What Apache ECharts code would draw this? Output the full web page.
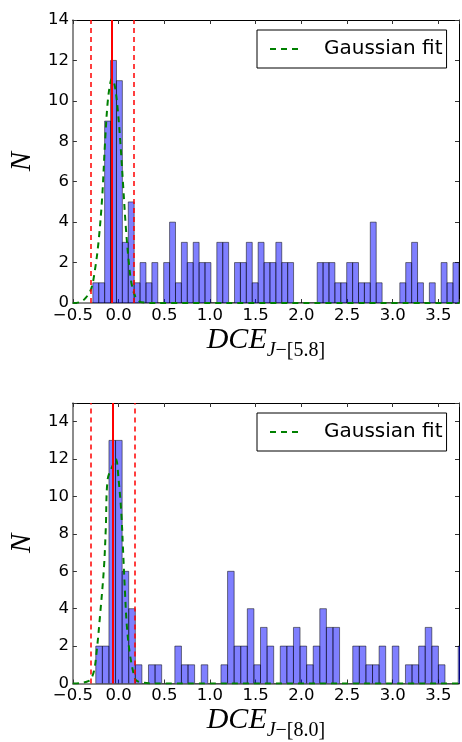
<!DOCTYPE html>
<html>
<head>
<meta charset="UTF-8">
<title>DCE histograms</title>
<script src="https://cdn.jsdelivr.net/npm/echarts@6/dist/echarts.min.js"></script>
<style>html,body{margin:0;padding:0;background:#fff}</style>
</head>
<body>
<div id="main" style="width:462px;height:742px;"></div>
<script>
// top panel, DCE J-[5.8]: histogram bins (left edge of first bin, bin width, counts)
var topBinStart = -0.2817
var topBinWidth = 0.0646
var topCounts = [1, 1, 9, 12, 11, 3, 5, 1, 2, 1, 2, 0, 2, 4, 1, 3, 2, 3,
                 2, 2, 0, 3, 3, 0, 2, 2, 3, 1, 3, 2, 2, 3, 2, 2, 0, 0, 0, 0,
                 2, 2, 2, 1, 1, 2, 2, 1, 1, 4, 1, 0, 0, 0, 1, 2, 3, 1, 0, 1, 0, 2, 1, 2]
// red lines: mean and the two dashed limits
var topMean = -0.068
var topLims = [-0.303, 0.167]
// gaussian fit, points
var topFitX = [-0.50, -0.42, -0.36, -0.30, -0.26, -0.22, -0.18, -0.15, -0.12, -0.09, -0.07, -0.04, -0.01, 0.02, 0.05, 0.08, 0.11, 0.14, 0.18, 0.22, 0.28, 0.40, 3.73]
var topFitY = [0.0, 0.05, 0.25, 0.7, 1.6, 3.0, 5.2, 7.8, 9.9, 10.9, 11.1, 10.7, 9.6, 7.9, 5.8, 3.7, 2.1, 1.0, 0.35, 0.1, 0.02, 0, 0]

// bottom panel, DCE J-[8.0]
var botBinStart = -0.2495
var botBinWidth = 0.0721
var botCounts = [2, 2, 13, 13, 6, 4, 1, 0, 1, 1, 0, 0, 2, 1, 1, 0, 1, 0, 0, 1,
                 6, 2, 2, 4, 1, 3, 2, 0, 2, 2, 3, 2, 1, 2, 4, 3, 3,
                 0, 0, 2, 2, 1, 1, 2, 0, 2, 0, 1, 1, 2, 3, 2, 1, 0, 0, 2]
var botMean = -0.059
var botLims = [-0.299, 0.185]
var botFitX = [-0.50, -0.42, -0.36, -0.31, -0.27, -0.24, -0.20, -0.16, -0.14, -0.12, -0.07, -0.03, 0.00, 0.03, 0.05, 0.07, 0.09, 0.12, 0.16, 0.19, 0.26, 0.40, 3.73]
var botFitY = [0, 0.02, 0.08, 0.2, 0.65, 1.7, 3.8, 6.2, 8.3, 10.9, 11.6, 12.0, 10.9, 9.1, 7.0, 4.9, 3.1, 1.7, 0.62, 0.18, 0.05, 0, 0]

var xMin = -0.5, xMax = 3.725

function xLabel (v) {
    if (Math.abs(v * 2 - Math.round(v * 2)) > 1e-6) return ''
    return (v < 0 ? '\u2212' : '') + Math.abs(v).toFixed(1)
}
function yLabel (v) {
    return v % 2 === 0 ? String(v) : ''
}

function histData (start, width, counts) {
    return counts.map(function (c, i) {
        return [start + i * width, start + (i + 1) * width, c]
    })
}
function zip (xs, ys) {
    return xs.map(function (x, i) { return [x, ys[i]] })
}

var serif = 'Liberation Serif'
var sans = 'DejaVu Sans'

function xName (sub) {
    return {
        name: '{a|DCE}{b|J}{c|\u2212[' + sub + ']}',
        nameLocation: 'middle',
        nameGap: 22,
        nameTextStyle: {
            rich: {
                a: {fontFamily: serif, fontStyle: 'italic', fontSize: 30, lineHeight: 30, verticalAlign: 'top', color: '#000'},
                b: {fontFamily: serif, fontStyle: 'italic', fontSize: 20, lineHeight: 51, verticalAlign: 'middle', color: '#000'},
                c: {fontFamily: serif, fontSize: 20, lineHeight: 51, verticalAlign: 'middle', color: '#000'}
            }
        }
    }
}

function mainX (grid, sub) {
    return Object.assign({
        gridIndex: grid, type: 'value', min: xMin, max: xMax, interval: 0.5,
        position: 'bottom',
        axisLine: {onZero: false, lineStyle: {color: '#666', width: 1.5}},
        axisTick: {inside: true, length: 4, lineStyle: {color: '#333'}},
        axisLabel: {margin: 4, fontSize: 16.5, color: '#000', fontFamily: sans, formatter: xLabel},
        splitLine: {show: false}
    }, xName(sub))
}
function topX (grid) {
    return {
        gridIndex: grid, type: 'value', min: xMin, max: xMax, interval: 0.5,
        position: 'top',
        axisLine: {onZero: false, lineStyle: {color: '#000', width: 1}},
        axisTick: {inside: true, length: 4, lineStyle: {color: '#333'}},
        axisLabel: {show: false},
        splitLine: {show: false}
    }
}
function mainY (grid, max) {
    return {
        gridIndex: grid, type: 'value', min: 0, max: max, interval: 2,
        position: 'left',
        axisLine: {onZero: false, lineStyle: {color: '#666', width: 1.5}},
        axisTick: {inside: true, length: 4, lineStyle: {color: '#333'}},
        axisLabel: {margin: 4, fontSize: 16.5, color: '#000', fontFamily: sans, formatter: yLabel},
        splitLine: {show: false},
        name: 'N',
        nameLocation: 'middle',
        nameRotate: 90,
        nameGap: 28,
        nameTextStyle: {fontFamily: serif, fontStyle: 'italic', fontSize: 29, color: '#000'}
    }
}
function rightY (grid, max) {
    return {
        gridIndex: grid, type: 'value', min: 0, max: max, interval: 2,
        position: 'right',
        axisLine: {onZero: false, lineStyle: {color: '#000', width: 1}},
        axisTick: {inside: true, length: 4, lineStyle: {color: '#333'}},
        axisLabel: {show: false},
        splitLine: {show: false}
    }
}

function histSeries (axis, data) {
    return {
        type: 'custom',
        name: 'hist',
        xAxisIndex: axis, yAxisIndex: axis,
        clip: true,
        data: data,
        encode: {x: [0, 1], y: 2},
        renderItem: function (params, api) {
            var p0 = api.coord([api.value(0), api.value(2)])
            var p1 = api.coord([api.value(1), 0])
            return {
                type: 'rect',
                shape: {x: p0[0], y: p0[1], width: p1[0] - p0[0], height: p1[1] - p0[1]},
                style: {fill: 'rgba(0,0,255,0.5)', stroke: 'rgba(0,0,0,0.5)', lineWidth: 1}
            }
        },
        z: 2
    }
}

function fitSeries (axis, pts, mean, lims) {
    return {
        type: 'line',
        name: 'Gaussian fit',
        xAxisIndex: axis, yAxisIndex: axis,
        data: pts,
        symbol: 'none',
        smooth: 0.35,
        clip: true,
        lineStyle: {color: '#008000', width: 2, type: [6, 5]},
        itemStyle: {color: '#008000'},
        z: 3,
        markLine: {
            silent: true,
            symbol: ['none', 'none'],
            label: {show: false},
            data: [
                {xAxis: mean, lineStyle: {color: '#ff0000', type: 'solid', width: 2}},
                {xAxis: lims[0], lineStyle: {color: '#ff0000', type: [5, 4], width: 1.5}},
                {xAxis: lims[1], lineStyle: {color: '#ff0000', type: [5, 4], width: 1.5}}
            ]
        }
    }
}

// dashed legend sample: three short green dashes
var dashIcon = 'path://M0,0h6v2h-6z M11,0h6v2h-6z M22,0h6v2h-6z'

function legendAt (top) {
    return {
        left: 257, top: top,
        orient: 'horizontal',
        data: [{name: 'Gaussian fit', icon: dashIcon}],
        padding: [9, 4, 9, 13],
        itemWidth: 28, itemHeight: 20,
        itemStyle: {color: '#008000', borderWidth: 0},
        borderColor: '#000', borderWidth: 1, borderRadius: 0,
        backgroundColor: '#fff',
        selectedMode: false,
        textStyle: {fontFamily: sans, fontSize: 20, color: '#000', padding: [0, 0, 0, 21]}
    }
}

var myChart = echarts.init(document.getElementById('main'))
myChart.setOption({
    animation: false,
    backgroundColor: '#fff',
    grid: [
        {left: 69, top: 20, width: 393, height: 283},
        {left: 69, top: 403, width: 393, height: 282}
    ],
    legend: [legendAt(30), legendAt(413)],
    xAxis: [mainX(0, '5.8'), topX(0), mainX(1, '8.0'), topX(1)],
    yAxis: [mainY(0, 14), rightY(0, 14), mainY(1, 15), rightY(1, 15)],
    series: [
        histSeries(0, histData(topBinStart, topBinWidth, topCounts)),
        fitSeries(0, zip(topFitX, topFitY), topMean, topLims),
        histSeries(2, histData(botBinStart, botBinWidth, botCounts)),
        fitSeries(2, zip(botFitX, botFitY), botMean, botLims)
    ]
})
</script>
</body>
</html>
